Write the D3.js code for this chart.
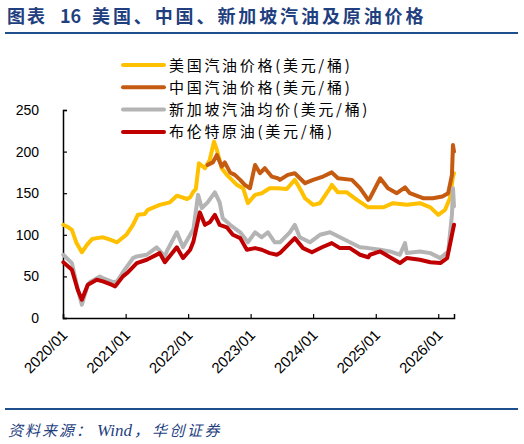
<!DOCTYPE html>
<html><head><meta charset="utf-8">
<script src="https://cdn.jsdelivr.net/npm/d3@7"></script>
<style>
html,body{margin:0;padding:0;background:#fff;}
svg{display:block;}
</style></head>
<body>
<svg id="chart" width="524" height="444"></svg>
<script>
// ---- data ----
const seriesNames = ["美国汽油价格(美元/桶)","中国汽油价格(美元/桶)","新加坡汽油均价(美元/桶)","布伦特原油(美元/桶)"];
const seriesColors = ["#FFC000","#C55A11","#B4B4B4","#C00000"];
const yTicks = [0,50,100,150,200,250];
const xTickLabels = ["2020/01","2021/01","2022/01","2023/01","2024/01","2025/01","2026/01"];

const usDates = ["2020-01-03","2020-02-01","2020-02-22","2020-03-20","2020-04-20","2020-05-20","2020-06-20","2020-07-16","2020-08-21","2020-09-20","2020-11-12","2021-01-05","2021-02-13","2021-03-13","2021-04-22","2021-05-10","2021-07-19","2021-09-16","2021-10-27","2021-12-26","2022-01-13","2022-02-01","2022-02-15","2022-03-05","2022-04-09","2022-05-07","2022-06-01","2022-06-18","2022-07-16","2022-08-15","2022-10-13","2022-11-18","2022-12-16","2023-01-27","2023-03-07","2023-04-22","2023-06-09","2023-07-31","2023-09-16","2023-10-15","2023-11-15","2024-01-01","2024-02-10","2024-04-09","2024-04-19","2024-05-25","2024-07-16","2024-09-13","2024-11-18","2025-02-13","2025-04-12","2025-07-01","2025-09-16","2025-11-16","2026-01-01","2026-02-10","2026-03-10","2026-03-28","2026-04-03"];
const usValues = [112,109,106,90,79,88,95,96,97,95,91,100,112,124,125,130,136,139,147,143,145,152,155,186,180,190,212,202,180,172,160,156,138,148,150,156,156,155,166,156,144,136,138,156,160,151,151,142,133,133,138,136,138,133,124,130,144,170,174];

const cnDates = ["2022-04-25","2022-05-25","2022-06-18","2022-07-16","2022-08-03","2022-09-03","2022-10-01","2022-11-01","2022-11-28","2022-12-28","2023-01-27","2023-02-25","2023-03-25","2023-05-04","2023-06-09","2023-06-21","2023-08-06","2023-09-16","2023-11-15","2024-01-01","2024-02-28","2024-04-19","2024-05-25","2024-08-15","2024-10-01","2024-11-18","2024-11-28","2025-01-27","2025-03-13","2025-05-04","2025-06-21","2025-07-19","2025-10-04","2025-12-01","2026-01-25","2026-02-28","2026-03-22","2026-03-28","2026-04-03"];
const cnValues = [184,187,196,182,187,175,172,166,160,156,184,174,180,170,168,166,172,174,162,166,170,175,168,166,156,142,144,168,156,150,157,150,144,144,146,150,172,208,200];

const sgDates = ["2020-01-03","2020-02-22","2020-03-27","2020-04-20","2020-05-25","2020-06-06","2020-08-03","2020-08-21","2020-10-19","2020-11-12","2020-12-16","2021-02-13","2021-03-07","2021-05-04","2021-07-01","2021-08-18","2021-08-31","2021-10-27","2021-12-02","2022-01-13","2022-02-01","2022-02-28","2022-03-22","2022-04-25","2022-06-06","2022-07-04","2022-07-22","2022-09-03","2022-11-01","2022-12-16","2023-01-27","2023-03-07","2023-04-12","2023-05-22","2023-06-21","2023-08-18","2023-09-16","2023-10-15","2023-12-13","2024-02-10","2024-04-09","2024-06-06","2024-08-03","2024-10-01","2024-11-18","2025-01-27","2025-03-25","2025-05-22","2025-06-21","2025-07-01","2025-09-16","2025-11-16","2026-01-13","2026-02-28","2026-03-22","2026-03-28","2026-04-03"];
const sgValues = [76,66,35,16,40,43,50,48,43,44,55,72,74,76,85,74,81,103,85,100,107,148,132,139,151,139,120,112,103,91,103,97,103,91,91,103,112,97,91,100,103,97,91,85,84,82,80,76,90,78,80,78,72,80,124,156,134];

const brDates = ["2020-01-03","2020-02-22","2020-03-27","2020-04-20","2020-05-25","2020-07-16","2020-08-21","2020-10-10","2020-11-01","2020-12-16","2021-01-15","2021-03-07","2021-05-04","2021-07-19","2021-08-18","2021-10-27","2021-12-02","2022-01-13","2022-02-01","2022-03-10","2022-04-09","2022-05-07","2022-06-06","2022-07-04","2022-08-15","2022-09-19","2022-11-01","2022-12-10","2023-01-27","2023-03-07","2023-04-22","2023-06-03","2023-06-21","2023-09-16","2023-11-03","2023-12-25","2024-02-22","2024-04-19","2024-06-06","2024-08-03","2024-10-01","2024-11-18","2024-11-28","2025-01-27","2025-03-25","2025-05-22","2025-07-01","2025-09-16","2025-11-16","2026-01-13","2026-02-22","2026-03-22","2026-04-03"];
const brValues = [67,58,34,22,40,46,44,40,38,50,55,66,70,78,67,85,72,82,92,127,112,115,124,112,109,100,96,82,84,82,78,76,78,96,84,79,85,90,84,84,76,73,76,80,73,66,72,70,67,66,72,100,112];

// ---- chart ----
const parse = d3.timeParse("%Y-%m-%d");
const svg = d3.select("#chart");
const blue = "#1F3F7F";
const cjk = "'Noto Sans CJK SC','Noto Sans',sans-serif";

// title
const title = svg.append("text").attr("y",23)
  .attr("font-family",cjk).attr("font-weight","bold").attr("font-size",18).attr("fill",blue);
title.append("tspan").attr("x",7).attr("letter-spacing",2).text("图表");
title.append("tspan").attr("x",60).text("16");
title.append("tspan").attr("x",92).attr("letter-spacing",2.9).text("美国、中国、新加坡汽油及原油价格");
svg.append("line").attr("x1",5).attr("x2",518).attr("y1",33).attr("y2",33)
  .attr("stroke","#1F4E8C").attr("stroke-width",2);

// footer
svg.append("line").attr("x1",5).attr("x2",518).attr("y1",409).attr("y2",409)
  .attr("stroke","#1F4E8C").attr("stroke-width",2);
const src = svg.append("text").attr("y",436)
  .attr("font-family",cjk).attr("font-style","italic").attr("font-size",15).attr("fill",blue);
src.append("tspan").attr("x",8).attr("letter-spacing",2).text("资料来源：");
src.append("tspan").attr("x",97).attr("font-family","'Liberation Serif',serif").attr("font-size",17).text("Wind");
src.append("tspan").attr("x",134).text("，");
src.append("tspan").attr("x",152).attr("letter-spacing",2.5).text("华创证券");

const x = d3.scaleTime()
  .domain([parse("2020-01-01"), parse("2026-04-03")])
  .range([63, 454]);
const y = d3.scaleLinear().domain([0,250]).range([318,110]);

// axes
const yAxis = d3.axisLeft(y).tickValues(yTicks).tickSize(-4).tickPadding(24).tickFormat(d3.format("d"));
const gy = svg.append("g").attr("transform","translate(63,0)").call(yAxis);
gy.selectAll("text").attr("font-family","'Liberation Sans',Arial,sans-serif").attr("font-size",14).attr("fill","#000");
gy.select(".domain").attr("stroke","#000").attr("stroke-width",1.5);
gy.selectAll(".tick line").attr("stroke","#000").attr("stroke-width",1.2);

const tickDates = xTickLabels.map(s => d3.timeParse("%Y/%m")(s));
const xAxis = d3.axisBottom(x).tickValues(tickDates).tickSize(-4).tickFormat((d,i)=>xTickLabels[i]);
const gx = svg.append("g").attr("transform","translate(0,318)").call(xAxis);
gx.select(".domain").attr("stroke","#000").attr("stroke-width",1.5);
gx.selectAll(".tick line").attr("stroke","#000").attr("stroke-width",1.2);
gx.selectAll("text")
  .attr("font-family","'Liberation Sans',Arial,sans-serif").attr("font-size",15).attr("fill","#000")
  .attr("text-anchor","end").attr("dy",null).attr("y",0)
  .attr("transform","translate(5,18) rotate(-45)");

// lines
const line = d3.line().x(d=>x(d[0])).y(d=>y(d[1])).curve(d3.curveLinear);
const all = [
  [usDates,usValues],[cnDates,cnValues],[sgDates,sgValues],[brDates,brValues]
];
[0,1,2,3].forEach(i=>{
  const [ds,vs] = all[i];
  const pts = ds.map((d,j)=>[parse(d),vs[j]]);
  svg.append("path").datum(pts).attr("d",line)
    .attr("fill","none").attr("stroke",seriesColors[i])
    .attr("stroke-width",4).attr("stroke-linejoin","round").attr("stroke-linecap","round");
});

// legend
const leg = svg.append("g");
seriesNames.forEach((n,i)=>{
  const yy = 65 + i*22.3;
  leg.append("line").attr("x1",123).attr("x2",164).attr("y1",yy).attr("y2",yy)
    .attr("stroke",seriesColors[i]).attr("stroke-width",4).attr("stroke-linecap","round");
  leg.append("text").attr("x",169).attr("y",yy+5.5)
    .attr("font-family",cjk).attr("font-size",15)
    .attr("letter-spacing",2.7).attr("fill","#000").text(n);
});
</script>
</body></html>
